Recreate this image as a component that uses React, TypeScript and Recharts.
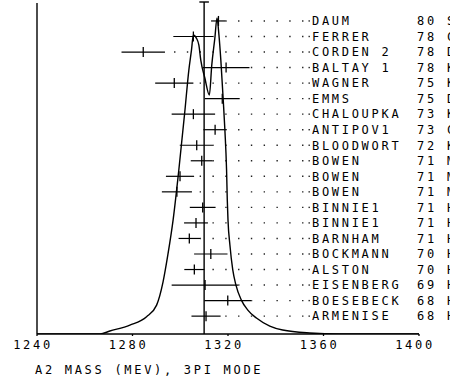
import React from 'react';
import { ComposedChart, XAxis, YAxis, Line, Scatter, ErrorBar, ReferenceLine, Label } from 'recharts';

// ---- data ----
const ROW_NAMES = ['DAUM', 'FERRER', 'CORDEN 2', 'BALTAY 1', 'WAGNER', 'EMMS', 'CHALOUPKA', 'ANTIPOV1', 'BLOODWORT', 'BOWEN', 'BOWEN', 'BOWEN', 'BINNIE1', 'BINNIE1', 'BARNHAM', 'BOCKMANN', 'ALSTON', 'EISENBERG', 'BOESEBECK', 'ARMENISE'];
const ROW_YEARS = ['80', '78', '78', '78', '75', '75', '73', '73', '72', '71', '71', '71', '71', '71', '71', '70', '70', '69', '68', '68'];
const ROW_TAGS = ['S', 'C', 'D', 'K', 'K', 'D', 'K', 'C', 'K', 'M', 'M', 'M', 'H', 'H', 'H', 'H', 'H', 'H', 'H', 'H'];
const MASSES = [1316, 1305.5, 1284.5, 1319.2, 1297.5, 1317.6, 1305.5, 1314.6, 1306.9, 1309, 1299.9, 1298.6, 1309.4, 1306.6, 1303.8, 1312.8, 1305.9, 1310.4, 1319.9, 1310.8];
const ERRORS = [3.1, 8.4, 9.1, 9.8, 8, 7.3, 9.1, 4.9, 7.1, 4.6, 5.9, 6.3, 5.4, 5, 4.5, 7, 4.2, 14, 9.8, 6.1];

const CURVE_MASS = [1240, 1266.4, 1270.5, 1278.9, 1285.9, 1290.1, 1292.8, 1294.8, 1297.0, 1299.4, 1301.9, 1303.6, 1304.7, 1305.5, 1306.7, 1307.8, 1308.6, 1310.3, 1312.2, 1313.2, 1314.5, 1315.4, 1316.2, 1317.0, 1318.0, 1318.7, 1319.4, 1319.7, 1320.0, 1320.8, 1322.0, 1323.3, 1325.6, 1328.3, 1331.9, 1337.5, 1342.9, 1354.2, 1366.8, 1400];
const CURVE_HEIGHT = [0, 0, 0.009, 0.027, 0.052, 0.087, 0.157, 0.238, 0.343, 0.494, 0.669, 0.795, 0.855, 0.901, 0.892, 0.87, 0.825, 0.771, 0.72, 0.81, 0.892, 0.952, 0.901, 0.825, 0.705, 0.614, 0.494, 0.404, 0.343, 0.268, 0.193, 0.148, 0.102, 0.072, 0.048, 0.024, 0.012, 0.003, 0, 0];

const MEAN_MASS = 1310;
const MEAN_ERR = 2;

const X_MIN = 1240;
const X_MAX = 1400;
const X_TICKS = [1240, 1280, 1320, 1360, 1400];
const X_TITLE = 'A2 MASS (MEV), 3PI MODE';

// ---- layout constants ----
const FONT = '"DejaVu Sans Mono", monospace';
const FS = 12;
const LS = 2.7;
const LEADER_END = 1351.6; // mass where dotted leaders stop (layout)
const NAME_X = 312;
const YEAR_X = 417;
const TAG_X = 447;

const rows = ROW_NAMES.map((n, i) => ({ m: MASSES[i], row: i, err: ERRORS[i] }));
const curve = CURVE_MASS.map((m, i) => ({ m, h: CURVE_HEIGHT[i] }));
const ROW_TICKS = ROW_NAMES.map((_, i) => i);

const PointTick = (props: any) => {
  const { cx, cy } = props;
  if (cx == null || cy == null) return null;
  return <line x1={cx} x2={cx} y1={cy - 5} y2={cy + 5} stroke="#000" strokeWidth={1.3} />;
};

const RowLabel = (props: any) => {
  const { y, payload } = props;
  const i = payload.value;
  const ty = y + 4.3;
  return (
    <g>
      <rect x={308.5} y={y - 0.7} width={1.4} height={1.4} fill="#222" />
      <text x={NAME_X} y={ty} fontFamily={FONT} fontSize={FS} letterSpacing={LS} fill="#000">{ROW_NAMES[i]}</text>
      <text x={YEAR_X} y={ty} fontFamily={FONT} fontSize={FS} letterSpacing={LS} fill="#000">{ROW_YEARS[i]}</text>
      <text x={TAG_X} y={ty} fontFamily={FONT} fontSize={FS} letterSpacing={LS} fill="#000">{ROW_TAGS[i]}</text>
    </g>
  );
};

const XTick = (props: any) => {
  const { x, payload } = props;
  return (
    <text x={x - 4} y={349} textAnchor="middle" fontFamily={FONT} fontSize={FS} letterSpacing={LS} fill="#000">{payload.value}</text>
  );
};

const TitleLabel = () => (
  <text x={35} y={374} fontFamily={FONT} fontSize={FS} letterSpacing={LS} fill="#000">{X_TITLE}</text>
);

export default function App() {
  return (
    <div style={{ position: 'absolute', left: 0, top: 0, width: 450, height: 381, overflow: 'hidden', background: '#fff' }}>
      <ComposedChart width={450} height={381} margin={{ top: 2, right: 31, bottom: 17, left: 36 }}>
        <XAxis
          type="number"
          dataKey="m"
          domain={[X_MIN, X_MAX]}
          ticks={X_TICKS}
          interval={0}
          height={30}
          tickSize={2}
          stroke="#000"
          strokeWidth={1.3}
          tick={<XTick />}
          allowDataOverflow
        >
          <Label content={<TitleLabel />} />
        </XAxis>
        <YAxis
          yAxisId="rows"
          type="number"
          domain={[-1.22, 20.15]}
          reversed
          ticks={ROW_TICKS}
          interval={0}
          width={1}
          tickLine={false}
          stroke="#000"
          strokeWidth={1.3}
          tick={<RowLabel />}
          allowDataOverflow
        />
        <YAxis yAxisId="curve" type="number" domain={[0, 1]} hide allowDataOverflow />
        <ReferenceLine
          yAxisId="curve"
          segment={[{ x: X_MIN, y: 0 }, { x: X_MIN, y: 0.997 }]}
          stroke="#000"
          strokeWidth={1.4}
          ifOverflow="visible"
        />
        {rows.map((r, i) => (
          <ReferenceLine
            key={i}
            yAxisId="rows"
            segment={[{ x: LEADER_END, y: r.row }, { x: r.m + r.err, y: r.row }]}
            stroke="#222"
            strokeWidth={1.4}
            strokeDasharray="1.4 11.4"
            ifOverflow="visible"
          />
        ))}
        <ReferenceLine yAxisId="curve" x={MEAN_MASS} stroke="#000" strokeWidth={1.4} />
        <ReferenceLine
          yAxisId="curve"
          segment={[{ x: MEAN_MASS - MEAN_ERR, y: 1 }, { x: MEAN_MASS + MEAN_ERR, y: 1 }]}
          stroke="#000"
          strokeWidth={1.4}
          ifOverflow="visible"
        />
        <Line
          data={curve}
          dataKey="h"
          yAxisId="curve"
          type="monotone"
          dot={false}
          activeDot={false}
          stroke="#000"
          strokeWidth={1.4}
          isAnimationActive={false}
        />
        <Scatter data={rows} dataKey="row" yAxisId="rows" shape={<PointTick />} isAnimationActive={false}>
          <ErrorBar dataKey="err" direction="x" width={0} stroke="#000" strokeWidth={1.2} />
        </Scatter>
      </ComposedChart>
    </div>
  );
}
